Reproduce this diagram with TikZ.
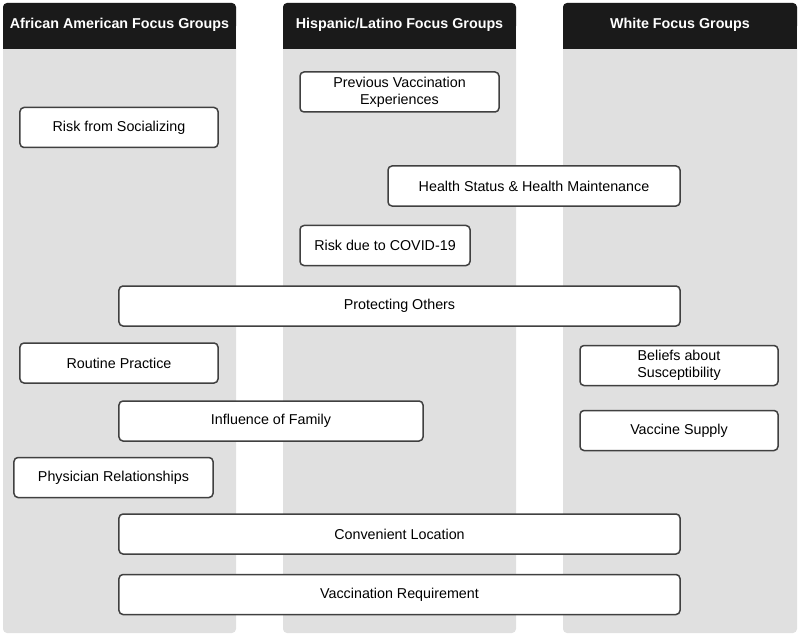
\documentclass[tikz,border=0pt]{standalone}
\usepackage{fontspec}
\setmainfont{Liberation Sans}
\definecolor{colgray}{HTML}{E0E0E0}
\definecolor{headblack}{HTML}{1A1A1A}
\definecolor{boxline}{HTML}{404040}
\begin{document}
\begin{tikzpicture}[x=1bp,y=-1bp,
  box/.style={draw=boxline, line width=1.5bp, fill=white, rounded corners=4bp,
    minimum height=40bp, inner sep=0pt, align=center,
    font=\fontsize{14.3bp}{17bp}\selectfont},
  headtext/.style={text=white, font=\bfseries\fontsize{14.3bp}{17bp}\selectfont, inner sep=0pt},
  column/.style={fill=colgray, rounded corners=4bp},
  header/.style={fill=headblack, rounded corners=4bp}]
\useasboundingbox (0,0) rectangle (800,635);
% columns
\foreach \xa/\xb in {3/236, 283/516, 563/797}{
  \fill[colgray, rounded corners=4bp] (\xa,3) rectangle (\xb,633);
  \fill[headblack, rounded corners=4bp] (\xa,3) rectangle (\xb,30);
  \fill[headblack] (\xa,20) rectangle (\xb,49);
}
\node[headtext] (h1) at (119.5,25) {African American Focus Groups};
\node[headtext] (h2) at (399.5,25) {Hispanic/Latino Focus Groups};
\node[headtext] (h3) at (680,25) {White Focus Groups};
% boxes
\node[box, minimum width=198bp] (soc) at (119,127.5) {Risk from Socializing};
\node[box, minimum width=199bp] (prev) at (399.5,92) {Previous Vaccination\\Experiences};
\node[box, minimum width=292bp] (health) at (534,186) {Health Status \& Health Maintenance};
\node[box, minimum width=170bp] (covid) at (385,245.5) {Risk due to COVID-19};
\node[box, minimum width=561bp] (prot) at (399.5,306) {Protecting Others};
\node[box, minimum width=198bp] (routine) at (119,363) {Routine Practice};
\node[box, minimum width=198bp] (beliefs) at (679,365.5) {Beliefs about\\Susceptibility};
\node[box, minimum width=304bp] (family) at (271,421) {Influence of Family};
\node[box, minimum width=198bp] (supply) at (679,430.5) {Vaccine Supply};
\node[box, minimum width=199bp] (phys) at (113.5,477.5) {Physician Relationships};
\node[box, minimum width=561bp] (conv) at (399.5,534) {Convenient Location};
\node[box, minimum width=561bp] (req) at (399.5,594.5) {Vaccination Requirement};
\end{tikzpicture}
\end{document}
